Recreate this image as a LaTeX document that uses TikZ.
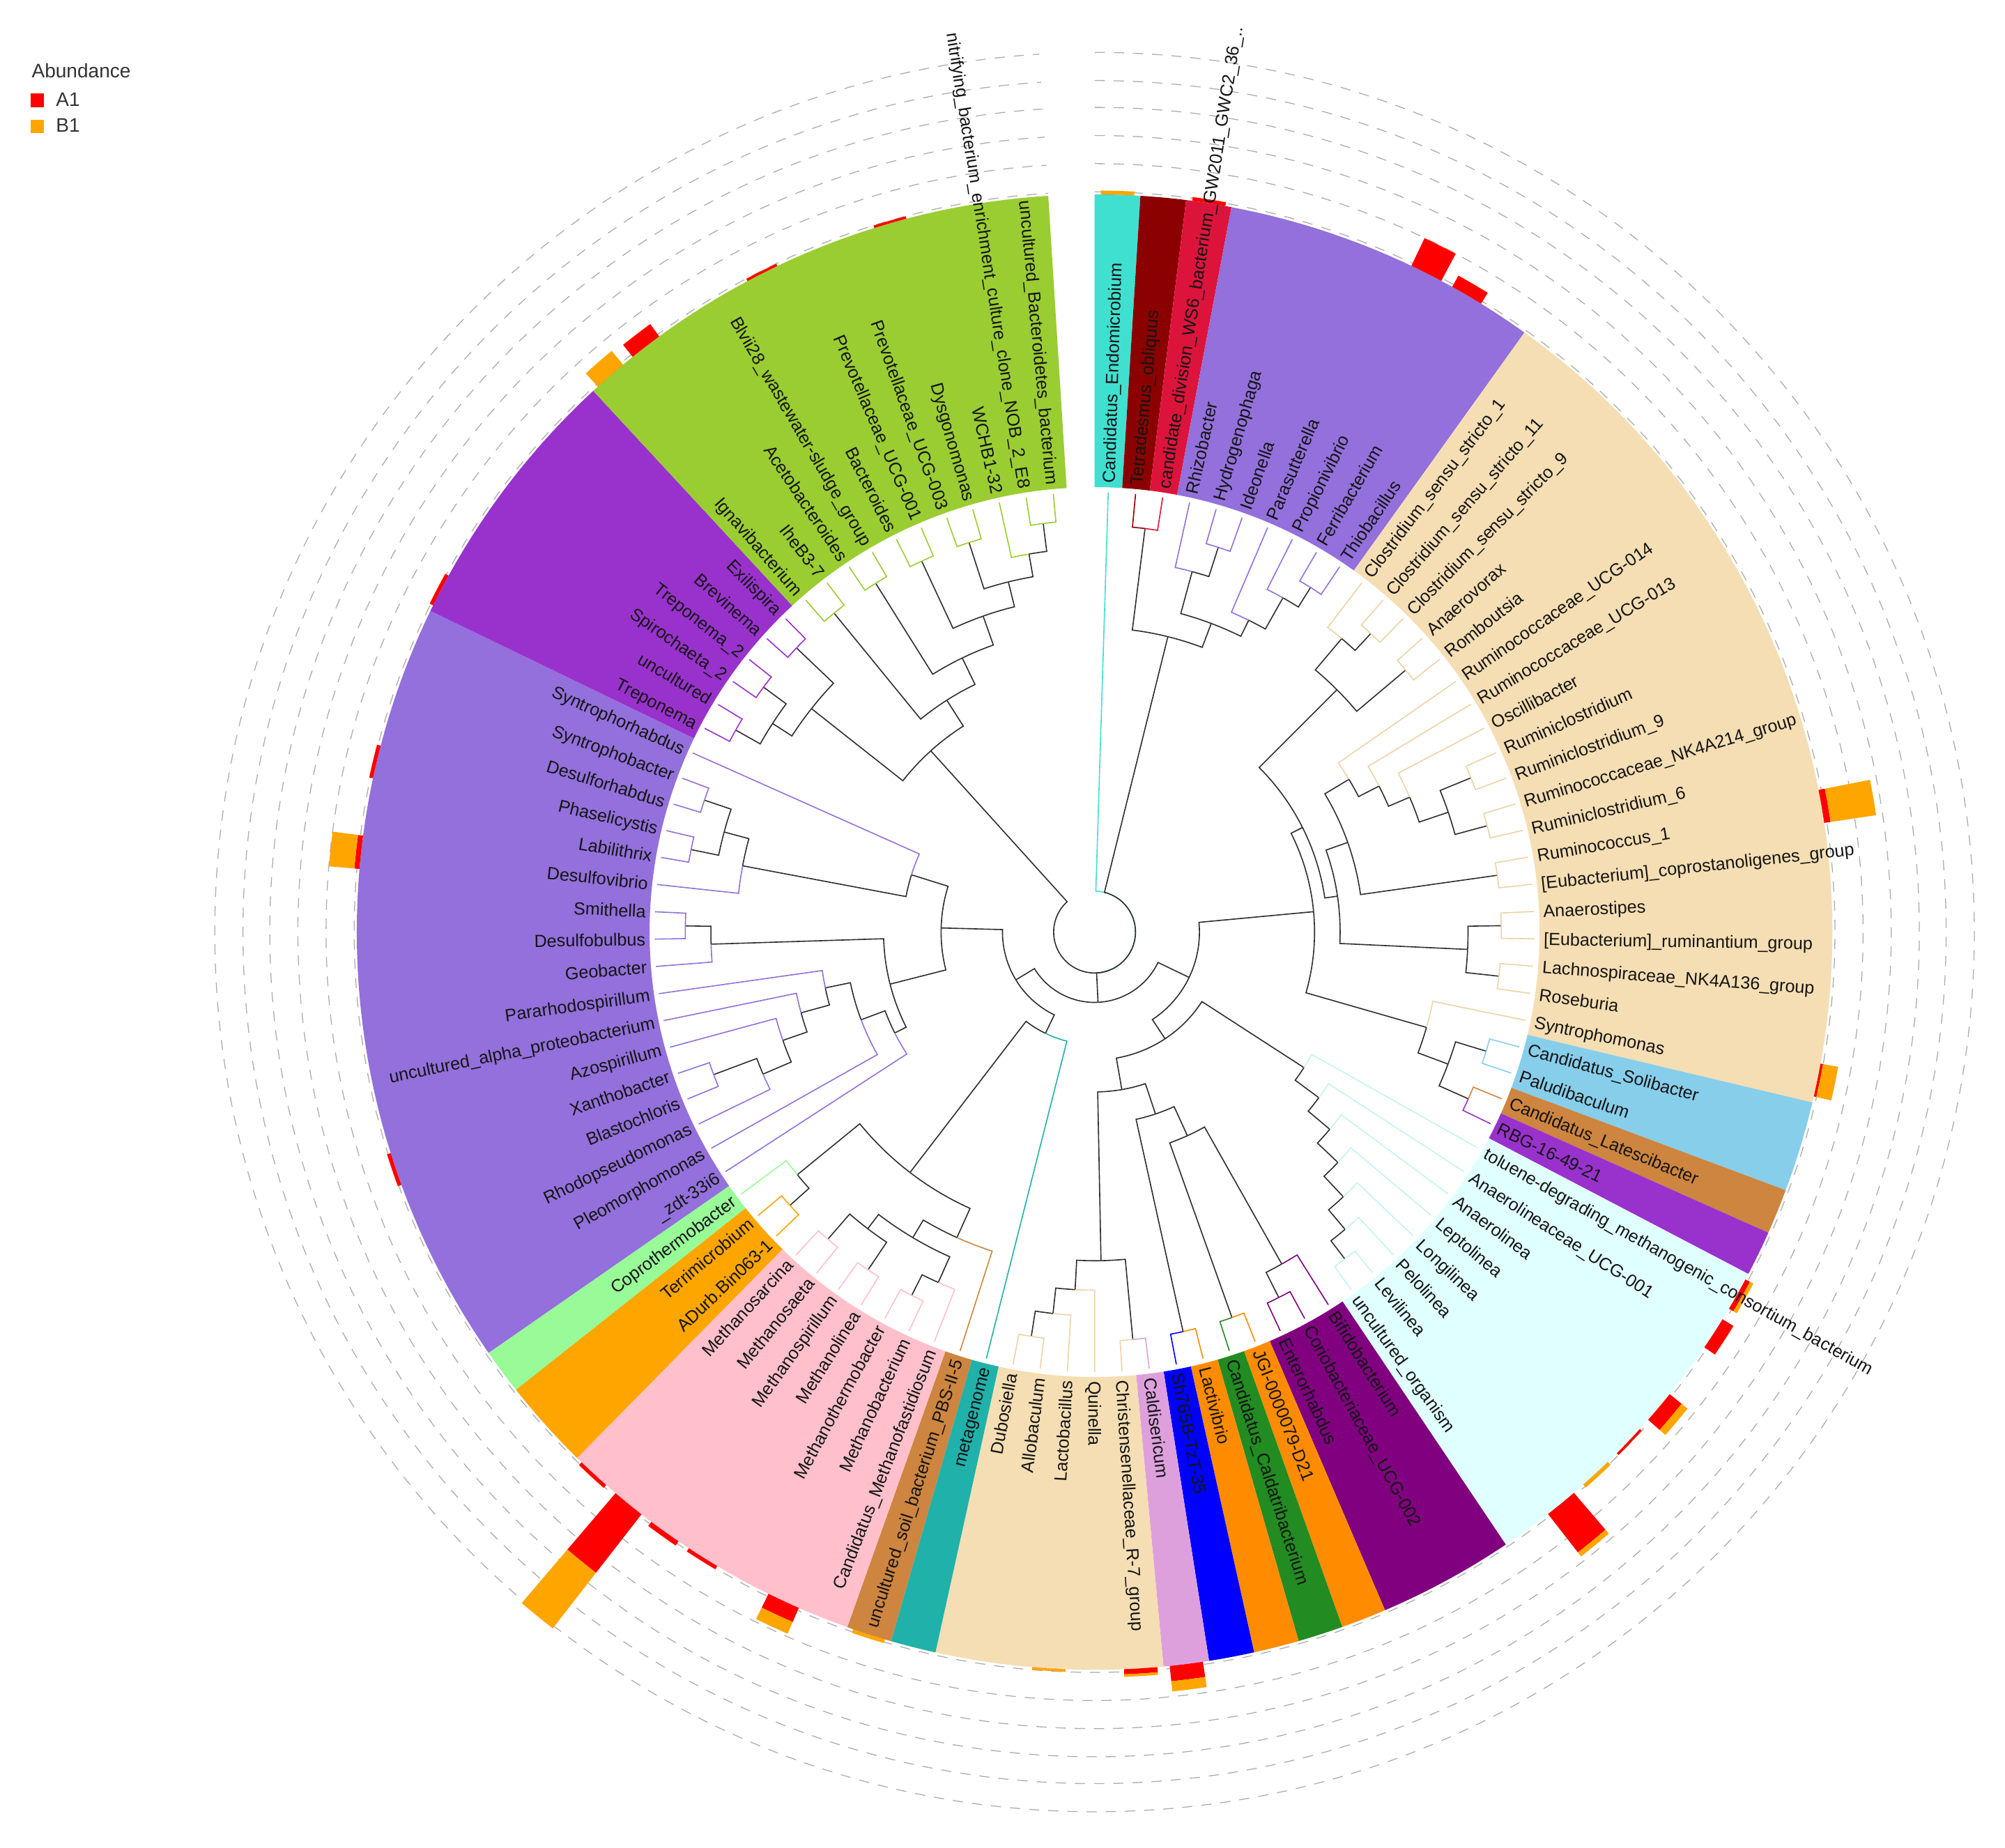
\documentclass[tikz,border=0pt]{standalone}
\usepackage{fontspec}
\setmainfont{Liberation Sans}
\definecolor{tk}{HTML}{2E2E2E}
\definecolor{tq}{HTML}{40E0D0}
\definecolor{drd}{HTML}{8B0000}
\definecolor{crim}{HTML}{DC143C}
\definecolor{mpur}{HTML}{9370DB}
\definecolor{whe}{HTML}{F5DEB3}
\definecolor{wheT}{HTML}{EDD3A6}
\definecolor{sky}{HTML}{87CEEB}
\definecolor{peru}{HTML}{CD853F}
\definecolor{dorc}{HTML}{9932CC}
\definecolor{lcyn}{HTML}{E0FFFF}
\definecolor{lcynT}{HTML}{C4F2F2}
\definecolor{purp}{HTML}{800080}
\definecolor{dora}{HTML}{FF8C00}
\definecolor{fgrn}{HTML}{228B22}
\definecolor{blu}{HTML}{0000FF}
\definecolor{plm}{HTML}{DDA0DD}
\definecolor{lsg}{HTML}{20B2AA}
\definecolor{pnk}{HTML}{FFC0CB}
\definecolor{ora}{HTML}{FFA500}
\definecolor{pgrn}{HTML}{98FB98}
\definecolor{ygrn}{HTML}{9ACD32}
\definecolor{abA}{HTML}{FF0000}
\definecolor{abB}{HTML}{FFA500}
\tikzset{
  branch/.style={line width=0.5pt},
  lab/.style={font=\fontsize{7.8}{9}\selectfont, inner sep=0pt, text height=5.6pt, text depth=0pt, text=black!92},
  ring/.style={dash pattern=on 0.16cm off 0.14cm, draw=gray!65, line width=0.4pt},
  legtext/.style={anchor=base west, font=\fontsize{8.7}{10}\selectfont, inner sep=0pt, text=black!80},
  legkey/.style={minimum size=0.21cm, inner sep=0pt}
}
% leaf k sits at 90-(k-0.5)*3.564 degrees, radii given in px of the reference (x0.02 cm)
\newcommand\seg[5]{%
  \pgfmathsetmacro\aP{90-(#3-0.5)*3.564}%
  \pgfmathsetmacro\aC{90-(#4-0.5)*3.564}%
  \pgfmathsetmacro\rP{#2*0.02}%
  \pgfmathsetmacro\rC{#5*0.02}%
  \draw[branch,color=#1] (\aP:\rP) arc[start angle=\aP,end angle=\aC,radius=\rP] -- (\aC:\rC);}
\newcommand\clade[3]{%
  \pgfmathsetmacro\aS{90-(#2-1)*3.564}%
  \pgfmathsetmacro\aE{90-#3*3.564}%
  \fill[fill=#1] (\aS:6.96) arc[start angle=\aS,end angle=\aE,radius=6.96] -- (\aE:11.54) arc[start angle=\aE,end angle=\aS,radius=11.54] -- cycle;}
\newcommand\abund[3]{%
  \pgfmathsetmacro\aM{90-(#1-0.5)*3.564}%
  \pgfmathsetmacro\aL{\aM-1.3}%
  \pgfmathsetmacro\aR{\aM+1.3}%
  \pgfmathsetmacro\rA{11.54+#2*0.02}%
  \pgfmathsetmacro\rB{\rA+#3*0.02}%
  \fill[abA] (\aL:11.54) arc[start angle=\aL,end angle=\aR,radius=11.54] -- (\aR:\rA) arc[start angle=\aR,end angle=\aL,radius=\rA] -- cycle;
  \fill[abB] (\aL:\rA) arc[start angle=\aL,end angle=\aR,radius=\rA] -- (\aR:\rB) arc[start angle=\aR,end angle=\aL,radius=\rB] -- cycle;}

\begin{document}
\begin{tikzpicture}
\useasboundingbox (-17.12,-14.32) rectangle (14.24,14.58);

\foreach \cl/\fa/\la in {tq/1/1, drd/2/2, crim/3/3, mpur/4/10, whe/11/29, sky/30/31, peru/32/32, dorc/33/33, lcyn/34/41, purp/42/44, dora/45/45, fgrn/46/46, dora/47/47, blu/48/48, plm/49/49, whe/50/54, lsg/55/55, peru/56/56, pnk/57/63, ora/64/65, pgrn/66/66, mpur/67/83, dorc/84/89, ygrn/90/100}
  {\clade{\cl}{\fa}{\la}}

\foreach \r in {11.58,12.02,12.46,12.9,13.32,13.76}
  \draw[ring] (90:\r) arc[start angle=90,end angle=-266.4,radius=\r];

\foreach \lf/\va/\vb in {1/0/3, 3/3/0, 8/24/0, 9/10/0, 23/5/36, 29/2/12, 34/4/3, 35/10/0, 37/12/6, 38/2/0, 39/0/3, 40/38/4, 49/12/8, 50/4/2, 52/0/2, 56/0/3, 58/12/10, 60/3/0, 61/4/0, 62/58/55, 63/3/0, 71/3/0, 78/4/20, 80/3/0, 84/3/0, 90/0/14, 91/12/0, 94/2/0, 97/2/0}
  {\abund{\lf}{\va}{\vb}}

\foreach \cl/\rp/\ip/\ic/\rc in {
tq/32/45/1/344, tk/32/45/4.41/238, tk/32/45/50.21/55, tk/32/45/89.7/191,
tk/238/4.41/2.5/318, tk/238/4.41/6.31/258,
drd/318/2.5/2/344, crim/318/2.5/3/344,
tk/258/6.31/4.75/292, tk/258/6.31/7.88/272,
mpur/292/4.75/4/344, tk/292/4.75/5.5/316,
mpur/316/5.5/5/344, mpur/316/5.5/6/344,
mpur/272/7.88/7/344, tk/272/7.88/8.75/300,
mpur/300/8.75/8/344, tk/300/8.75/9.5/318,
mpur/318/9.5/9/344, mpur/318/9.5/10/344,
tk/55/50.21/32.94/82, tk/55/50.21/67.48/72,
tk/82/32.94/24.26/172, tk/82/32.94/41.62/100,
tk/172/24.26/18.26/182, tk/172/24.26/30.25/270,
tk/182/18.26/13.13/268, tk/182/18.26/23.39/192,
tk/268/13.13/11.75/300, tk/268/13.13/14.5/318,
wheT/300/11.75/11/344, tk/300/11.75/12.5/318,
wheT/318/12.5/12/344, wheT/318/12.5/13/344,
wheT/318/14.5/14/344, wheT/318/14.5/15/344,
tk/192/23.39/20.28/210, tk/192/23.39/26.5/292,
tk/210/20.28/17.06/232, tk/210/20.28/23.5/318,
wheT/232/17.06/16/344, tk/232/17.06/18.13/250,
wheT/250/18.13/17/344, tk/250/18.13/19.25/268,
wheT/268/19.25/18/344, tk/268/19.25/20.5/292,
tk/292/20.5/19.5/318, tk/292/20.5/21.5/318,
wheT/318/19.5/19/344, wheT/318/19.5/20/344,
wheT/318/21.5/21/344, wheT/318/21.5/22/344,
wheT/318/23.5/23/344, wheT/318/23.5/24/344,
tk/292/26.5/25.5/318, tk/292/26.5/27.5/318,
wheT/318/25.5/25/344, wheT/318/25.5/26/344,
wheT/318/27.5/27/344, wheT/318/27.5/28/344,
wheT/270/30.25/29/344, tk/270/30.25/31.5/295,
tk/295/31.5/30.5/320, tk/295/31.5/32.5/320,
sky/320/30.5/30/344, sky/320/30.5/31/344,
peru/320/32.5/32/344, dorc/320/32.5/33/344,
tk/100/41.62/34.99/195, tk/100/41.62/48.25/125,
lcynT/195/34.99/34/344, tk/195/34.99/35.98/218,
lcynT/218/35.98/35/344, tk/218/35.98/36.97/240,
lcynT/240/36.97/36/344, tk/240/36.97/37.94/262,
lcynT/262/37.94/37/344, tk/262/37.94/38.88/284,
lcynT/284/38.88/38/344, tk/284/38.88/39.75/304,
lcynT/304/39.75/39/344, tk/304/39.75/40.5/322,
lcynT/322/40.5/40/344, lcynT/322/40.5/41/344,
tk/125/48.25/45.81/150, tk/125/48.25/50.69/257,
tk/150/45.81/44.13/175, tk/150/45.81/47.5/320,
tk/175/44.13/42.75/298, tk/175/44.13/45.5/320,
purp/298/42.75/42/344, tk/298/42.75/43.5/320,
purp/320/43.5/43/344, purp/320/43.5/44/344,
dora/320/45.5/45/344, fgrn/320/45.5/46/344,
dora/320/47.5/47/344, blu/320/47.5/48/344,
tk/257/50.69/49.5/320, tk/257/50.69/51.88/280,
plm/320/49.5/49/344, wheT/320/49.5/50/344,
wheT/280/51.88/51/344, tk/280/51.88/52.75/300,
wheT/300/52.75/52/344, tk/300/52.75/53.5/320,
wheT/320/53.5/53/344, wheT/320/53.5/54/344,
tk/72/67.48/58.27/88, tk/72/67.48/76.69/120,
lsg/88/58.27/55/344, tk/88/58.27/61.53/237,
tk/237/61.53/57.81/262, tk/237/61.53/65.25/300,
peru/262/57.81/56/344, tk/262/57.81/59.63/278,
tk/278/59.63/57.75/300, tk/278/59.63/61.5/292,
pnk/300/57.75/57/344, tk/300/57.75/58.5/318,
pnk/318/58.5/58/344, pnk/318/58.5/59/344,
tk/292/61.5/60.5/318, tk/292/61.5/62.5/318,
pnk/318/60.5/60/344, pnk/318/60.5/61/344,
pnk/318/62.5/62/344, pnk/318/62.5/63/344,
tk/300/65.25/64.5/320, pgrn/300/65.25/66/344,
ora/320/64.5/64/344, ora/320/64.5/65/344,
tk/120/76.69/72.25/165, tk/120/76.69/81.13/150,
tk/165/72.25/68.74/175, tk/165/72.25/75.75/300,
mpur/175/68.74/67/344, tk/175/68.74/70.48/195,
mpur/195/70.48/68/344, tk/195/70.48/72.97/215,
tk/215/72.97/71.94/238, mpur/215/72.97/74/344,
tk/238/71.94/70.88/258, mpur/238/71.94/73/344,
tk/258/70.88/69.75/282, mpur/258/70.88/72/344,
mpur/282/69.75/69/344, tk/282/69.75/70.5/318,
mpur/318/70.5/70/344, mpur/318/70.5/71/344,
mpur/300/75.75/75/344, tk/300/75.75/76.5/320,
mpur/320/76.5/76/344, mpur/320/76.5/77/344,
tk/150/81.13/79.25/280, mpur/150/81.13/83/344,
mpur/280/79.25/78/344, tk/280/79.25/80.5/300,
tk/300/80.5/79.5/322, tk/300/80.5/81.5/322,
mpur/322/79.5/79/344, mpur/322/79.5/80/344,
mpur/322/81.5/81/344, mpur/322/81.5/82/344,
tk/191/89.7/87/282, tk/191/89.7/92.39/215,
tk/282/87/85.5/300, tk/282/87/88.5/322,
tk/300/85.5/84.5/322, tk/300/85.5/86.5/322,
dorc/322/84.5/84/344, dorc/322/84.5/85/344,
dorc/322/86.5/86/344, dorc/322/86.5/87/344,
dorc/322/88.5/88/344, dorc/322/88.5/89/344,
tk/215/92.39/90.5/322, tk/215/92.39/94.28/238,
ygrn/322/90.5/90/344, ygrn/322/90.5/91/344,
tk/238/94.28/92.5/322, tk/238/94.28/96.06/262,
ygrn/322/92.5/92/344, ygrn/322/92.5/93/344,
tk/262/96.06/94.5/320, tk/262/96.06/97.63/282,
ygrn/320/94.5/94/344, ygrn/320/94.5/95/344,
tk/282/97.63/96.5/320, tk/282/97.63/98.75/300,
ygrn/320/96.5/96/344, ygrn/320/96.5/97/344,
ygrn/300/98.75/98/344, tk/300/98.75/99.5/322,
ygrn/322/99.5/99/344, ygrn/322/99.5/100/344}
  {\seg{\cl}{\rp}{\ip}{\ic}{\rc}}

\foreach \lf/\nm in {1/Candidatus\_Endomicrobium, 2/Tetradesmus\_obliquus, 3/candidate\_division\_WS6\_bacterium\_GW2011\_GWC2\_36\_.., 4/Rhizobacter, 5/Hydrogenophaga, 6/Ideonella, 7/Parasutterella, 8/Propionivibrio, 9/Ferribacterium, 10/Thiobacillus,
11/Clostridium\_sensu\_stricto\_1, 12/Clostridium\_sensu\_stricto\_11, 13/Clostridium\_sensu\_stricto\_9, 14/Anaerovorax, 15/Romboutsia, 16/Ruminococcaceae\_UCG-014, 17/Ruminococcaceae\_UCG-013, 18/Oscillibacter, 19/Ruminiclostridium, 20/Ruminiclostridium\_9,
21/Ruminococcaceae\_NK4A214\_group, 22/Ruminiclostridium\_6, 23/Ruminococcus\_1, 24/{[Eubacterium]\_coprostanoligenes\_group}, 25/Anaerostipes, 26/{[Eubacterium]\_ruminantium\_group}, 27/Lachnospiraceae\_NK4A136\_group, 28/Roseburia, 29/Syntrophomonas, 30/Candidatus\_Solibacter,
31/Paludibaculum, 32/Candidatus\_Latescibacter, 33/RBG-16-49-21, 34/toluene-degrading\_methanogenic\_consortium\_bacterium, 35/Anaerolineaceae\_UCG-001, 36/Anaerolinea, 37/Leptolinea, 38/Longilinea, 39/Pelolinea, 40/Levilinea,
41/uncultured\_organism, 42/Bifidobacterium, 43/Coriobacteriaceae\_UCG-002, 44/Enterorhabdus, 45/JGI-0000079-D21, 46/Candidatus\_Caldatribacterium, 47/Lactivibrio, 48/Sh765B-TzT-35, 49/Caldisericum, 50/Christensenellaceae\_R-7\_group,
51/Quinella, 52/Lactobacillus, 53/Allobaculum, 54/Dubosiella, 55/metagenome, 56/uncultured\_soil\_bacterium\_PBS-II-5, 57/Candidatus\_Methanofastidiosum, 58/Methanobacterium, 59/Methanothermobacter, 60/Methanolinea,
61/Methanospirillum, 62/Methanosaeta, 63/Methanosarcina, 64/ADurb.Bin063-1, 65/Terrimicrobium, 66/Coprothermobacter, 67/\_zdt-33i6, 68/Pleomorphomonas, 69/Rhodopseudomonas, 70/Blastochloris,
71/Xanthobacter, 72/Azospirillum, 73/uncultured\_alpha\_proteobacterium, 74/Pararhodospirillum, 75/Geobacter, 76/Desulfobulbus, 77/Smithella, 78/Desulfovibrio, 79/Labilithrix, 80/Phaselicystis,
81/Desulforhabdus, 82/Syntrophobacter, 83/Syntrophorhabdus, 84/Treponema, 85/uncultured, 86/Spirochaeta\_2, 87/Treponema\_2, 88/Brevinema, 89/Exilispira, 90/Ignavibacterium,
91/IheB3-7, 92/Acetobacteroides, 93/Blvii28\_wastewater-sludge\_group, 94/Bacteroides, 95/Prevotellaceae\_UCG-001, 96/Prevotellaceae\_UCG-003, 97/Dysgonomonas, 98/WCHB1-32, 99/nitrifying\_bacterium\_enrichment\_culture\_clone\_NOB\_2\_E8, 100/uncultured\_Bacteroidetes\_bacterium}
{
  \pgfmathsetmacro\ang{90-(\lf-0.5)*3.564}
  \ifnum\lf<52
    \node[lab,anchor=west,rotate=\ang] (t\lf) at (\ang:7.02) {\nm};
  \else
    \pgfmathsetmacro\rot{\ang+180}
    \node[lab,anchor=east,rotate=\rot] (t\lf) at (\ang:7.02) {\nm};
  \fi
}

\node[legtext] (legtitle) at (-16.63,13.36) {Abundance};
\node[legkey,fill=abA] (keyA) at (-16.54,13.01) {};
\node[legtext] (legA) at (-16.25,12.92) {A1};
\node[legkey,fill=abB] (keyB) at (-16.54,12.60) {};
\node[legtext] (legB) at (-16.25,12.51) {B1};
\end{tikzpicture}
\end{document}
